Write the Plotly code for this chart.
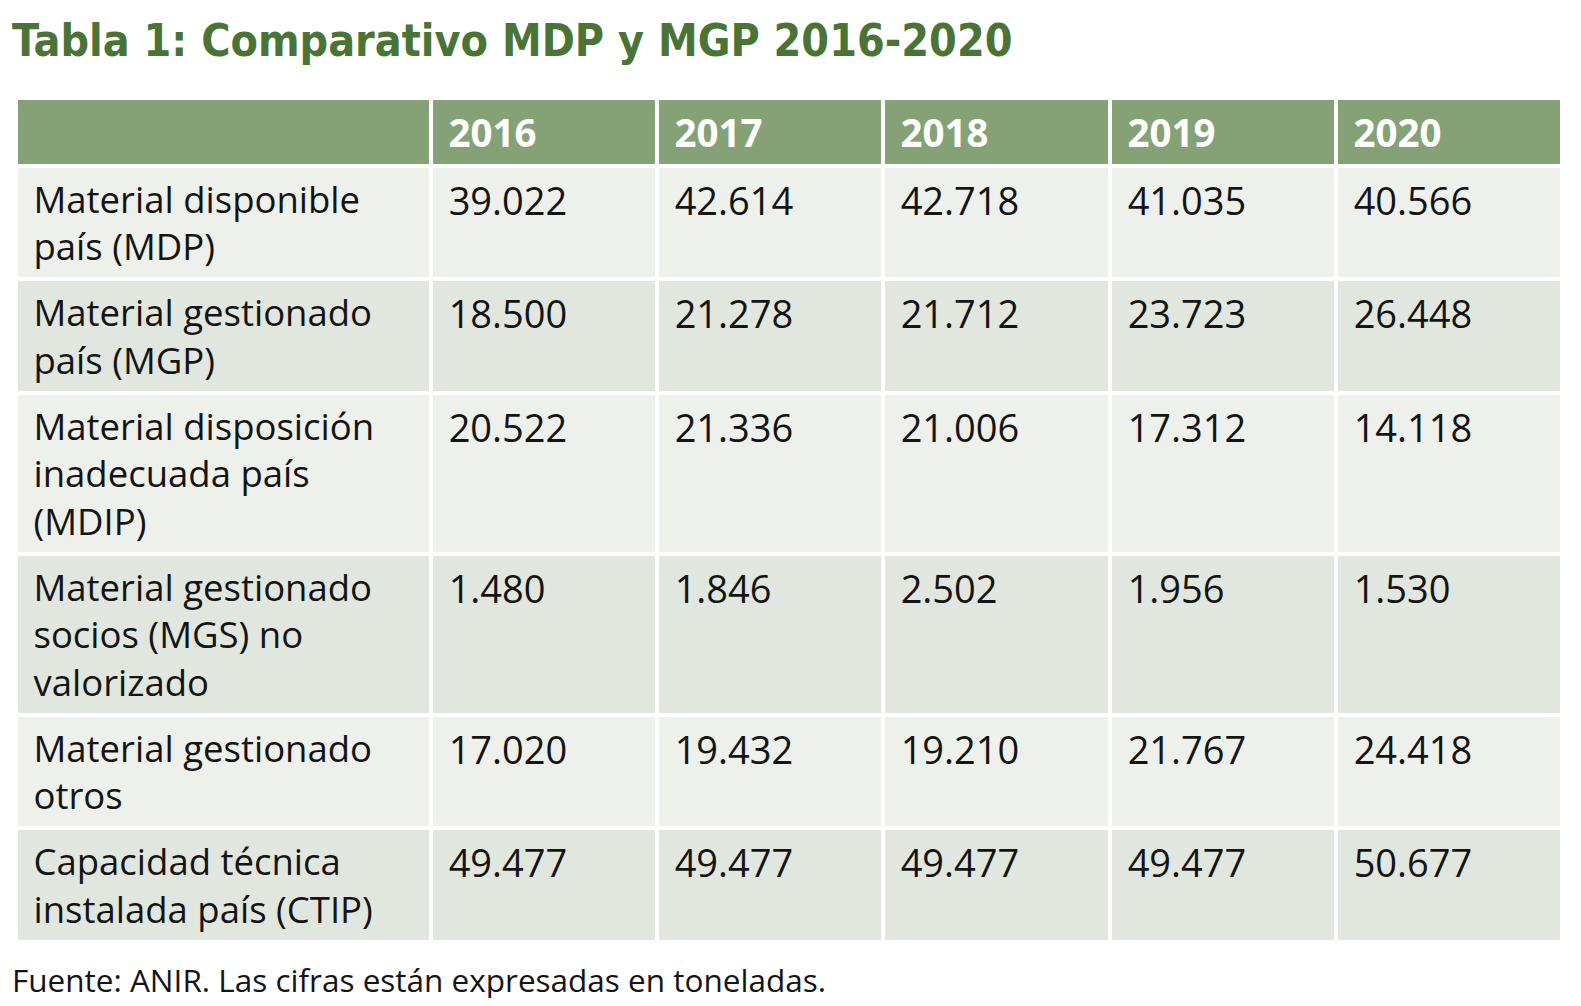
import plotly.graph_objects as go

title_text = "Tabla 1: Comparativo MDP y MGP 2016-2020"
footer_text = "Fuente: ANIR. Las cifras están expresadas en toneladas."

years = ["2016", "2017", "2018", "2019", "2020"]
row_labels = [
    "Material disponible<br>país (MDP)",
    "Material gestionado<br>país (MGP)",
    "Material disposición<br>inadecuada país<br>(MDIP)",
    "Material gestionado<br>socios (MGS) no<br>valorizado",
    "Material gestionado<br>otros",
    "Capacidad técnica<br>instalada país (CTIP)",
]
v2016 = [39022, 18500, 20522, 1480, 17020, 49477]
v2017 = [42614, 21278, 21336, 1846, 19432, 49477]
v2018 = [42718, 21712, 21006, 2502, 19210, 49477]
v2019 = [41035, 23723, 17312, 1956, 21767, 49477]
v2020 = [40566, 26448, 14118, 1530, 24418, 50677]


def fmt(v):
    return f"{v:,}".replace(",", ".")


def pad(size):
    return f'<span style="font-size:{size}px">&nbsp;</span>'


LABEL_SIZE = 36.5
NUM_SIZE = 38
HEAD_SIZE = 38.5


def cell_text(s, first_pad, rest_pad=None):
    rest_pad = rest_pad or first_pad
    lines = str(s).split("<br>")
    out = "<br>".join((first_pad if i == 0 else rest_pad) + line for i, line in enumerate(lines))
    if len(lines) == 1:
        out += "<br>"  # explicit break: keeps plotly from auto-wrapping the markup
    return out


GREEN_HEAD = "#84A276"
GREEN_TITLE = "#4A7436"
ROW_LIGHT = "#EDF0EB"
ROW_DARK = "#E1E7DE"
TEXT = "#141414"

year_cols = [v2016, v2017, v2018, v2019, v2020]
cell_values = [[cell_text(l, pad(36.5), pad(LABEL_SIZE)) for l in row_labels]] + [
    [cell_text(fmt(v), pad(37)) for v in col] for col in year_cols
]
header_values = [""] + [cell_text(f"<b>{y}</b>", pad(36.5)) for y in years]
row_fill = [ROW_LIGHT if i % 2 == 0 else ROW_DARK for i in range(len(row_labels))]

BODY_FONT = "Open Sans, Noto Sans, sans-serif"

W, H = 1565, 990  # page body has an 8px margin

fig = go.Figure(
    go.Table(
        columnwidth=[415, 226, 226, 227, 226, 226],
        header=dict(
            values=header_values,
            fill_color=GREEN_HEAD,
            line=dict(color="white", width=4),
            font=dict(family=BODY_FONT, size=HEAD_SIZE, color="white"),
            align="left",
            height=62,
        ),
        cells=dict(
            values=cell_values,
            fill_color=[row_fill] * 6,
            line=dict(color="white", width=4),
            font=dict(family=BODY_FONT, size=[LABEL_SIZE] + [NUM_SIZE] * 5, color=TEXT),
            align="left",
            height=111,
        ),
        domain=dict(x=[0, 1], y=[0, 1]),
    )
)

fig.update_layout(
    width=W,
    height=H,
    margin=dict(l=8, r=11, t=90, b=0),
    paper_bgcolor="white",
    title=dict(
        text=f"<b>{title_text}</b>",
        x=4 / W,
        xanchor="left",
        xref="container",
        y=1 - 32.5 / H,
        yanchor="middle",
        yref="container",
        font=dict(family="DejaVu Sans Condensed, sans-serif", size=44.4, color=GREEN_TITLE),
    ),
    annotations=[
        dict(
            text=footer_text,
            xref="paper",
            yref="paper",
            x=0,
            xshift=-6,
            xanchor="left",
            y=(H - 971) / (H - 90),
            yanchor="middle",
            showarrow=False,
            font=dict(family=BODY_FONT, size=31.5, color=TEXT),
        )
    ],
)

fig.write_html("out.html")
